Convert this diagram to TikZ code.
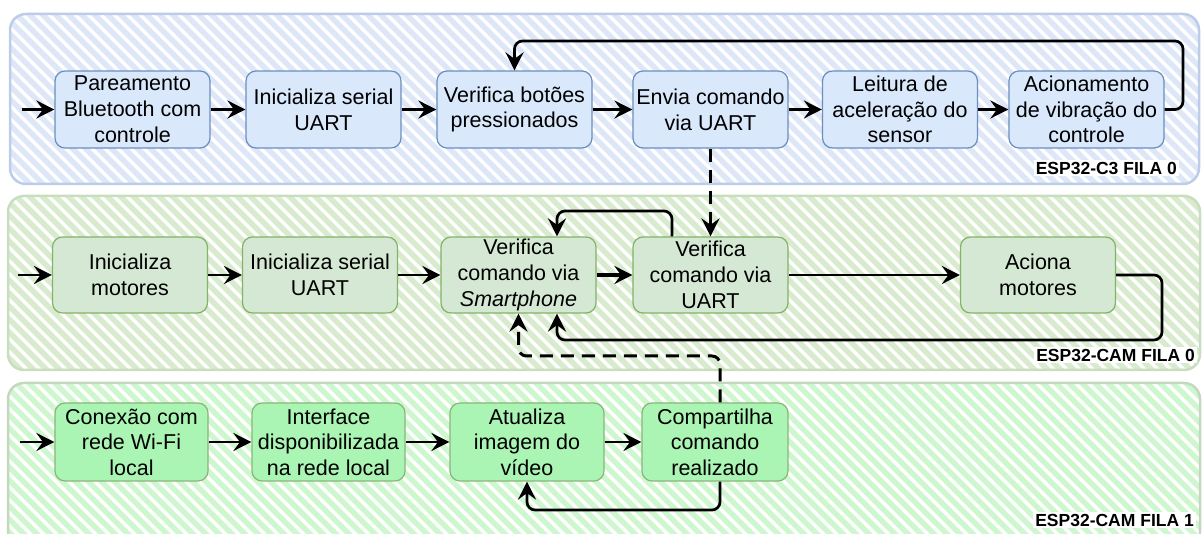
\documentclass[tikz,border=0pt]{standalone}
\usepackage{fontspec}
\setmainfont{Liberation Sans}
\usetikzlibrary{arrows.meta,positioning,calc}

\definecolor{laneblue}{HTML}{DDE7F8}
\definecolor{laneblueline}{HTML}{BCCDEA}
\definecolor{lanegreen}{HTML}{D8EBCE}
\definecolor{lanegreenline}{HTML}{C8DEBE}
\definecolor{lanemint}{HTML}{CFF7CF}
\definecolor{lanemintline}{HTML}{C4D8BF}
\definecolor{boxblue}{HTML}{DAE8FC}
\definecolor{boxblueline}{HTML}{6C8EBF}
\definecolor{boxgreen}{HTML}{D5E8D4}
\definecolor{boxgreenline}{HTML}{82B366}
\definecolor{boxmint}{HTML}{ABF5B4}
\definecolor{boxmintline}{HTML}{8AB57A}

\tikzset{
  stepbox/.style={rectangle, rounded corners=10pt, line width=1.2pt,
    minimum width=155pt, minimum height=77pt, inner sep=0pt, align=center,
    font=\fontsize{21.5}{25.8}\selectfont},
  bluebox/.style={stepbox, fill=boxblue, draw=boxblueline},
  greenbox/.style={stepbox, fill=boxgreen, draw=boxgreenline},
  mintbox/.style={stepbox, fill=boxmint, draw=boxmintline},
  flow/.style={line width=2.7pt, rounded corners=8pt,
    -{Stealth[length=18pt,width=18pt,inset=6.5pt]}},
  dashflow/.style={flow, dash pattern=on 13pt off 8pt, line width=3pt},
  lanetag/.style={fill=white, inner sep=2pt, anchor=east,
    font=\fontsize{17.5}{20}\selectfont\bfseries},
}

% hatched swim lane: corner (x0,y0), opposite corner (x1,y1), stripe colour, border colour
\newcommand{\hatchlane}[6]{%
  \begin{scope}
    \clip[rounded corners=16pt] (#1,#2) rectangle (#3,#4);
    \fill[white] (#1,#2) rectangle (#3,#4);
    \foreach \k in {-220,-207,...,1210}{
      \draw[#5, line width=5.5pt] (\k,#2-2) -- ++(200,200);
    }
  \end{scope}
  \draw[#6, line width=2.5pt, rounded corners=16pt] (#1,#2) rectangle (#3,#4);
}

\begin{document}
\begin{tikzpicture}[x=1pt,y=-1pt]
\useasboundingbox (0,0) rectangle (1203,534);
\clip (0,0) rectangle (1203,534);

% swim lanes
\hatchlane{10}{14}{1199}{184}{laneblue}{laneblueline}
\hatchlane{8}{196}{1200}{370}{lanegreen}{lanegreenline}
\hatchlane{8}{383}{1200}{548}{lanemint}{lanemintline}

% ESP32-C3, queue 0
\node[bluebox] (b11) at (132.5,109.5) {Pareamento\\Bluetooth com\\controle};
\node[bluebox] (b12) at (323.5,109.5) {Inicializa serial\\UART};
\node[bluebox] (b13) at (514.5,109.5) {Verifica botões\\pressionados};
\node[bluebox] (b14) at (710.5,109.5) {Envia comando\\via UART};
\node[bluebox] (b15) at (900,109.5) {Leitura de\\aceleração do\\sensor};
\node[bluebox] (b16) at (1086.5,109.5) {Acionamento\\de vibração do\\controle};

% ESP32-CAM, queue 0
\node[greenbox, minimum height=76pt] (b21) at (130,275) {Inicializa\\motores};
\node[greenbox, minimum height=76pt] (b22) at (320,275) {Inicializa serial\\UART};
\node[greenbox, minimum height=76pt] (b23) at (518.5,275) {Verifica\\comando via\\\textit{Smartphone}};
\node[greenbox, minimum height=76pt] (b24) at (710.5,275) {Verifica\\comando via\\UART};
\node[greenbox, minimum height=76pt] (b25) at (1038,275) {Aciona\\motores};

% ESP32-CAM, queue 1
\node[mintbox, minimum width=153pt, minimum height=78pt, font=\fontsize{21.5}{25.5}\selectfont] (b31) at (131.5,442) {Conexão com\\rede Wi-Fi\\local};
\node[mintbox, minimum width=153pt, minimum height=78pt, font=\fontsize{21.5}{25.5}\selectfont] (b32) at (328.5,442) {Interface\\disponibilizada\\na rede local};
\node[mintbox, minimum width=154pt, minimum height=78pt, font=\fontsize{21.5}{25.5}\selectfont] (b33) at (527,442) {Atualiza\\imagem do\\vídeo};
\node[mintbox, minimum width=146pt, minimum height=78pt, font=\fontsize{21.5}{25.5}\selectfont] (b34) at (715,442) {Compartilha\\comando\\realizado};

% lane tags
\node[lanetag] (t1) at (1179,168) {ESP32-C3 FILA 0};
\node[lanetag] (t2) at (1197,355) {ESP32-CAM FILA 0};
\node[lanetag] (t3) at (1196,520) {ESP32-CAM FILA 1};

% free ends and bends
\coordinate (s1) at (22,109.5);
\coordinate (s2) at (18,275);
\coordinate (s3) at (20,442);
\coordinate (r1) at (1183,41);
\coordinate (r2) at (557,211);
\coordinate (r3) at (1162,340);
\coordinate (r4) at (518.5,356);
\coordinate (r5) at (527,510);

% lane 1 flow
\draw[flow] (s1) -- (b11);
\draw[flow] (b11) -- (b12);
\draw[flow] (b12) -- (b13);
\draw[flow] (b13) -- (b14);
\draw[flow] (b14) -- (b15);
\draw[flow] (b15) -- (b16);
\draw[flow] (b16.east) -| (r1) -| (b13.north);

% lane 2 flow
\draw[flow] (s2) -- (b21);
\draw[flow] (b21) -- (b22);
\draw[flow] (b22) -- (b23);
\draw[flow, line width=3.2pt] (b23) -- (b24);
\draw[flow] (b24) -- (b25);
\draw[flow] ([xshift=-38.5pt]b24.north) |- (r2) -- ([xshift=38.5pt]b23.north);
\draw[flow] (b25.east) -| (r3) -| ([xshift=38.5pt]b23.south);

% lane 3 flow
\draw[flow] (s3) -- (b31);
\draw[flow] (b31) -- (b32);
\draw[flow] (b32) -- (b33);
\draw[flow] (b33) -- (b34);
\draw[flow] ([xshift=5pt]b34.south) |- (r5) -- (b33.south);

% links between lanes
\draw[dashflow] (b14.south) -- (b24.north);
\draw[dashflow] ([xshift=5pt]b34.north) |- (r4) -- (b23.south);
\end{tikzpicture}
\end{document}
